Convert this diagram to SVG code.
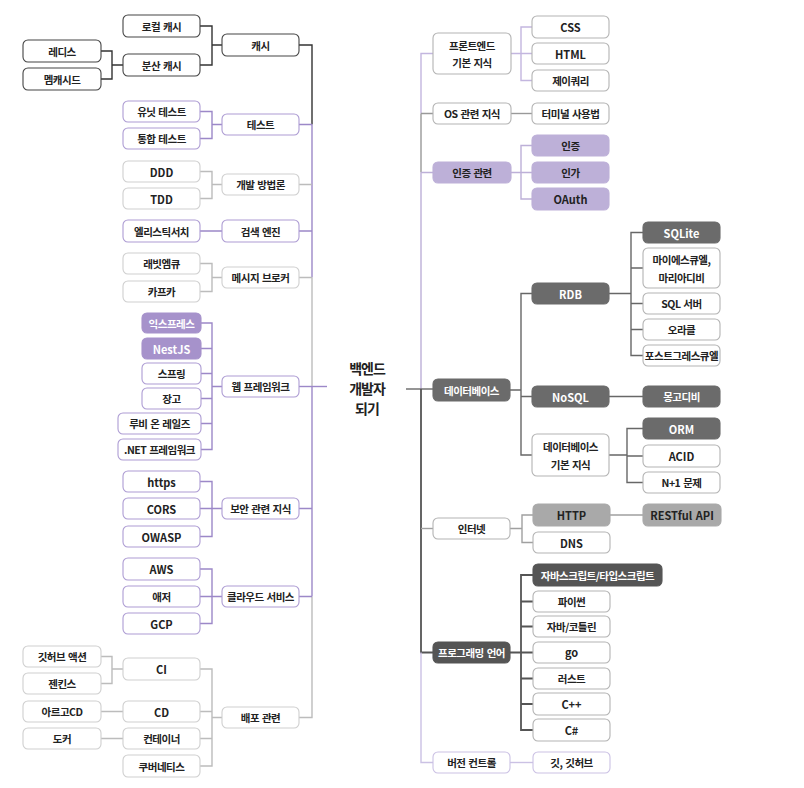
<svg xmlns="http://www.w3.org/2000/svg" width="804" height="788" viewBox="0 0 804 788">
<style>
text{font-family:"Noto Sans CJK KR","Noto Sans",sans-serif;font-size:10.5px;font-weight:700;text-anchor:middle;dominant-baseline:central;fill:#222;letter-spacing:-0.5px;word-spacing:1px}
text.l{font-size:11px;letter-spacing:0}
text.w{fill:#fff}
.root{font-size:14px;letter-spacing:-1px}
rect{rx:5;ry:5;stroke-width:1.1}
.bk{fill:#fff;stroke:#444}
.pu{fill:#fff;stroke:#ad9cd3}
.gy{fill:#fff;stroke:#cfcfcf}
.gr{fill:#fff;stroke:#b3b3b3}
.pf{fill:#a692cb;stroke:#a692cb}
.af{fill:#bdb0d8;stroke:#bdb0d8}
.df{fill:#6b6b6b;stroke:#6b6b6b}
.hf{fill:#a9a9a9;stroke:#a9a9a9}
.pl{fill:#555;stroke:#555}
.vp{fill:#fff;stroke:#cbc1e4}
path{fill:none;stroke-width:1.4}
.c-bk{stroke:#333}
.c-pu{stroke:#9c88c8}
.c-gy{stroke:#bcbcbc}
.c-fp{stroke:#c3b6df}
.c-os{stroke:#999}
.c-au{stroke:#bdb0d8}
.c-db{stroke:#676767}
.c-in{stroke:#a0a0a0}
.c-pl{stroke:#555;stroke-width:1.8}
.c-vp{stroke:#cbc1e4}
</style>
<rect x="0" y="0" width="804" height="788" fill="#fff" style="stroke:none;rx:0"/>
<g id="connectors">
<path class="c-bk" d="M299,45 H312 V124.5"/>
<path class="c-pu" d="M312,124.5 V277.5"/>
<path class="c-gy" d="M312,277.5 V386.5"/>
<path class="c-pu" d="M312,386.5 V596.5"/>
<path class="c-gy" d="M312,596.5 V717.5 H299"/>
<path class="c-pu" d="M299,386.5 H327"/>
<path class="c-bk" d="M200,26 H212 V65 H200 M212,45 H222 M101,51 H112 V79 H101 M112,65 H123"/>
<path class="c-pu" d="M200,111.5 H212 V138.5 H200 M212,124.5 H222 M299,124.5 H312"/>
<path class="c-gy" d="M200,171.5 H212 V198.5 H200 M212,184.5 H222 M299,184.5 H312"/>
<path class="c-pu" d="M200,231 H222 M299,231 H312"/>
<path class="c-gy" d="M200,263.5 H212 V291.5 H200 M212,277.5 H222 M299,277.5 H312"/>
<path class="c-pu" d="M201,323 H212 V449.5 H201 M201,348.5 H212 M201,373.5 H212 M201,398.5 H212 M201,423.5 H212 M212,386.5 H222"/>
<path class="c-pu" d="M200,481.5 H212 V536.5 H200 M200,508.5 H222 M299,508.5 H312"/>
<path class="c-pu" d="M200,569 H212 V623.5 H200 M200,596.5 H222 M299,596.5 H312"/>
<path class="c-gy" d="M101,656.5 H112 V683.5 H101 M112,669 H123 M101,711.5 H123 M101,738.5 H123 M200,669 H212 V766 H200 M200,711.5 H212 M200,738.5 H212 M212,717.5 H222"/>
<path class="c-fp" d="M433,53.5 H421 V113.5"/>
<path class="c-os" d="M421,113.5 V172.5 M421,113.5 H433"/>
<path class="c-au" d="M421,172.5 V389 M421,172.5 H433"/>
<path class="c-db" d="M406,389 H433"/>
<path class="c-pl" d="M421,389 V652.5 H433"/>
<path class="c-in" d="M421,528.5 H433"/>
<path class="c-vp" d="M421,652.5 V762.5 H433"/>
<path class="c-fp" d="M511,53.5 H532 M532,27 H521 V80.5 H532"/>
<path class="c-os" d="M511,113.5 H532"/>
<path class="c-au" d="M511,172.5 H532 M532,145.5 H521 V199 H532"/>
<path class="c-db" d="M510,390 H521 M532,293.5 H521 V455 H532 M521,396.5 H532"/>
<path class="c-db" d="M609,293.5 H631 M643,232.5 H631 V355.5 H643 M631,268 H643 M631,303.5 H643 M631,329.5 H643"/>
<path class="c-db" d="M609,396.5 H643"/>
<path class="c-db" d="M609,455 H627 M643,428.5 H627 V482.5 H643 M627,456 H643"/>
<path class="c-in" d="M510,528.5 H522 M533,515 H522 V542.5 H533 M610,515 H643"/>
<path class="c-pl" d="M510,652.5 H533 M533,575 H521 V730 H533 M521,601.5 H533 M521,626.5 H533 M521,678.5 H533 M521,704 H533"/>
<path class="c-vp" d="M510,762.5 H533"/>
</g>

<g id="root"><text class="root" x="367" y="368">백엔드</text><text class="root" x="367" y="388">개발자</text><text class="root" x="367" y="408">되기</text></g>

<g id="n-cache"><rect class="bk" x="222" y="34" width="77" height="22"/><text x="260.5" y="45">캐시</text></g>
<g id="n-local-cache"><rect class="bk" x="123" y="15" width="77" height="22"/><text x="161.5" y="26">로컬 캐시</text></g>
<g id="n-dist-cache"><rect class="bk" x="123" y="54" width="77" height="22"/><text x="161.5" y="65">분산 캐시</text></g>
<g id="n-redis"><rect class="bk" x="23" y="40" width="78" height="22"/><text x="62" y="51">레디스</text></g>
<g id="n-memcached"><rect class="bk" x="23" y="68" width="78" height="22"/><text x="62" y="79">멤캐시드</text></g>

<g id="n-test"><rect class="pu" x="222" y="114" width="77" height="21"/><text x="260.5" y="124.5">테스트</text></g>
<g id="n-unit"><rect class="pu" x="123" y="101" width="77" height="21"/><text x="161.5" y="111.5">유닛 테스트</text></g>
<g id="n-integ"><rect class="pu" x="123" y="128" width="77" height="21"/><text x="161.5" y="138.5">통합 테스트</text></g>

<g id="n-dev"><rect class="gy" x="222" y="174" width="77" height="21"/><text x="260.5" y="184.5">개발 방법론</text></g>
<g id="n-ddd"><rect class="gy" x="123" y="161" width="77" height="21"/><text class="l" x="161.5" y="171.5">DDD</text></g>
<g id="n-tdd"><rect class="gy" x="123" y="188" width="77" height="21"/><text class="l" x="161.5" y="198.5">TDD</text></g>

<g id="n-search"><rect class="pu" x="222" y="220" width="77" height="22"/><text x="260.5" y="231">검색 엔진</text></g>
<g id="n-es"><rect class="pu" x="123" y="220" width="77" height="22"/><text x="161.5" y="231">엘리스틱서치</text></g>

<g id="n-broker"><rect class="gy" x="222" y="267" width="77" height="21"/><text x="260.5" y="277.5">메시지 브로커</text></g>
<g id="n-rabbit"><rect class="gy" x="123" y="253" width="77" height="21"/><text x="161.5" y="263.5">래빗엠큐</text></g>
<g id="n-kafka"><rect class="gy" x="123" y="281" width="77" height="21"/><text x="161.5" y="291.5">카프카</text></g>

<g id="n-web"><rect class="pu" x="222" y="376" width="77" height="21"/><text x="260.5" y="386.5">웹 프레임워크</text></g>
<g id="n-express"><rect class="pf" x="142" y="313" width="59" height="20"/><text class="w" x="171.5" y="323">익스프레스</text></g>
<g id="n-nest"><rect class="pf" x="142" y="338" width="59" height="21"/><text class="l w" x="171.5" y="348.5">NestJS</text></g>
<g id="n-spring"><rect class="pu" x="142" y="363" width="59" height="21"/><text x="171.5" y="373.5">스프링</text></g>
<g id="n-django"><rect class="pu" x="142" y="388" width="59" height="21"/><text x="171.5" y="398.5">장고</text></g>
<g id="n-rails"><rect class="pu" x="118" y="413" width="83" height="21"/><text x="159.5" y="423.5">루비 온 레일즈</text></g>
<g id="n-dotnet"><rect class="pu" x="118" y="439" width="83" height="21"/><text x="159.5" y="449.5">.NET 프레임워크</text></g>

<g id="n-security"><rect class="pu" x="222" y="498" width="77" height="21"/><text x="260.5" y="508.5">보안 관련 지식</text></g>
<g id="n-https"><rect class="pu" x="123" y="471" width="77" height="21"/><text class="l" x="161.5" y="481.5">https</text></g>
<g id="n-cors"><rect class="pu" x="123" y="498" width="77" height="21"/><text class="l" x="161.5" y="508.5">CORS</text></g>
<g id="n-owasp"><rect class="pu" x="123" y="526" width="77" height="21"/><text class="l" x="161.5" y="536.5">OWASP</text></g>

<g id="n-cloud"><rect class="pu" x="222" y="586" width="77" height="21"/><text x="260.5" y="596.5">클라우드 서비스</text></g>
<g id="n-aws"><rect class="pu" x="123" y="558" width="77" height="22"/><text class="l" x="161.5" y="569">AWS</text></g>
<g id="n-azure"><rect class="pu" x="123" y="586" width="77" height="21"/><text x="161.5" y="596.5">애저</text></g>
<g id="n-gcp"><rect class="pu" x="123" y="613" width="77" height="21"/><text class="l" x="161.5" y="623.5">GCP</text></g>

<g id="n-deploy"><rect class="gy" x="222" y="707" width="77" height="21"/><text x="260.5" y="717.5">배포 관련</text></g>
<g id="n-ci"><rect class="gy" x="123" y="658" width="77" height="22"/><text class="l" x="161.5" y="669">CI</text></g>
<g id="n-gha"><rect class="gy" x="23" y="646" width="78" height="21"/><text x="62" y="656.5">깃허브 액션</text></g>
<g id="n-jenkins"><rect class="gy" x="23" y="673" width="78" height="21"/><text x="62" y="683.5">젠킨스</text></g>
<g id="n-cd"><rect class="gy" x="123" y="701" width="77" height="21"/><text class="l" x="161.5" y="711.5">CD</text></g>
<g id="n-argo"><rect class="gy" x="23" y="701" width="78" height="21"/><text x="62" y="711.5">아르고CD</text></g>
<g id="n-container"><rect class="gy" x="123" y="728" width="77" height="21"/><text x="161.5" y="738.5">컨테이너</text></g>
<g id="n-docker"><rect class="gy" x="23" y="728" width="78" height="21"/><text x="62" y="738.5">도커</text></g>
<g id="n-k8s"><rect class="gy" x="123" y="755" width="77" height="22"/><text x="161.5" y="766">쿠버네티스</text></g>

<g id="n-frontend"><rect class="gr" x="433" y="33" width="78" height="41"/><text x="472" y="45">프론트엔드</text><text x="472" y="62.5">기본 지식</text></g>
<g id="n-css"><rect class="gr" x="532" y="16" width="77" height="22"/><text class="l" x="570.5" y="27">CSS</text></g>
<g id="n-html"><rect class="gr" x="532" y="43" width="77" height="21"/><text class="l" x="570.5" y="53.5">HTML</text></g>
<g id="n-jquery"><rect class="gr" x="532" y="70" width="77" height="21"/><text x="570.5" y="80.5">제이쿼리</text></g>

<g id="n-os"><rect class="gr" x="433" y="103" width="78" height="21"/><text x="472" y="113.5">OS 관련 지식</text></g>
<g id="n-terminal"><rect class="gr" x="532" y="103" width="77" height="21"/><text x="570.5" y="113.5">터미널 사용법</text></g>

<g id="n-auth"><rect class="af" x="433" y="162" width="78" height="21"/><text x="472" y="172.5">인증 관련</text></g>
<g id="n-authn"><rect class="af" x="532" y="135" width="77" height="21"/><text x="570.5" y="145.5">인증</text></g>
<g id="n-authz"><rect class="af" x="532" y="162" width="77" height="21"/><text x="570.5" y="172.5">인가</text></g>
<g id="n-oauth"><rect class="af" x="532" y="188" width="77" height="22"/><text class="l" x="570.5" y="199">OAuth</text></g>

<g id="n-db"><rect class="df" x="433" y="379" width="77" height="22"/><text class="w" x="471.5" y="390">데이터베이스</text></g>
<g id="n-rdb"><rect class="df" x="532" y="283" width="77" height="21"/><text class="l w" x="570.5" y="293.5">RDB</text></g>
<g id="n-sqlite"><rect class="df" x="643" y="222" width="77" height="21"/><text class="l w" x="681.5" y="232.5">SQLite</text></g>
<g id="n-mysql"><rect class="gr" x="643" y="248" width="77" height="40"/><text x="681.5" y="259">마이에스큐엘,</text><text x="681.5" y="277">마리아디비</text></g>
<g id="n-mssql"><rect class="gr" x="643" y="293" width="77" height="21"/><text x="681.5" y="303.5">SQL 서버</text></g>
<g id="n-oracle"><rect class="gr" x="643" y="319" width="77" height="21"/><text x="681.5" y="329.5">오라클</text></g>
<g id="n-postgres"><rect class="gr" x="643" y="345" width="77" height="21"/><text x="681.5" y="355.5">포스트그레스큐엘</text></g>
<g id="n-nosql"><rect class="df" x="532" y="386" width="77" height="21"/><text class="l w" x="570.5" y="396.5">NoSQL</text></g>
<g id="n-mongo"><rect class="df" x="643" y="386" width="77" height="21"/><text class="w" x="681.5" y="396.5">몽고디비</text></g>
<g id="n-dbbasic"><rect class="gr" x="532" y="434" width="77" height="42"/><text x="570.5" y="446">데이터베이스</text><text x="570.5" y="464">기본 지식</text></g>
<g id="n-orm"><rect class="df" x="643" y="418" width="77" height="21"/><text class="l w" x="681.5" y="428.5">ORM</text></g>
<g id="n-acid"><rect class="gr" x="643" y="445" width="77" height="22"/><text class="l" x="681.5" y="456">ACID</text></g>
<g id="n-n1"><rect class="gr" x="643" y="472" width="77" height="21"/><text x="681.5" y="482.5">N+1 문제</text></g>

<g id="n-internet"><rect class="gr" x="433" y="518" width="77" height="21"/><text x="471.5" y="528.5">인터넷</text></g>
<g id="n-http"><rect class="hf" x="533" y="504" width="77" height="22"/><text class="l" x="571.5" y="515">HTTP</text></g>
<g id="n-rest"><rect class="hf" x="643" y="504" width="78" height="22"/><text class="l" x="682" y="515">RESTful API</text></g>
<g id="n-dns"><rect class="gr" x="533" y="532" width="77" height="21"/><text class="l" x="571.5" y="542.5">DNS</text></g>

<g id="n-lang"><rect class="pl" x="433" y="642" width="77" height="21"/><text class="w" x="471.5" y="652.5">프로그래밍 언어</text></g>
<g id="n-jsts"><rect class="pl" x="533" y="564" width="129" height="22"/><text class="w" x="597.5" y="575">자바스크립트/타입스크립트</text></g>
<g id="n-python"><rect class="gr" x="533" y="591" width="77" height="21"/><text x="571.5" y="601.5">파이썬</text></g>
<g id="n-java"><rect class="gr" x="533" y="616" width="77" height="21"/><text x="571.5" y="626.5">자바/코틀린</text></g>
<g id="n-go"><rect class="gr" x="533" y="642" width="77" height="21"/><text class="l" x="571.5" y="651.5">go</text></g>
<g id="n-rust"><rect class="gr" x="533" y="668" width="77" height="21"/><text x="571.5" y="678.5">러스트</text></g>
<g id="n-cpp"><rect class="gr" x="533" y="693" width="77" height="22"/><text class="l" x="571.5" y="704">C++</text></g>
<g id="n-cs"><rect class="gr" x="533" y="719" width="77" height="22"/><text class="l" x="571.5" y="730">C#</text></g>

<g id="n-vcs"><rect class="vp" x="433" y="752" width="77" height="21"/><text x="471.5" y="762.5">버전 컨트롤</text></g>
<g id="n-git"><rect class="vp" x="533" y="752" width="77" height="21"/><text x="571.5" y="762.5">깃, 깃허브</text></g>
</svg>
